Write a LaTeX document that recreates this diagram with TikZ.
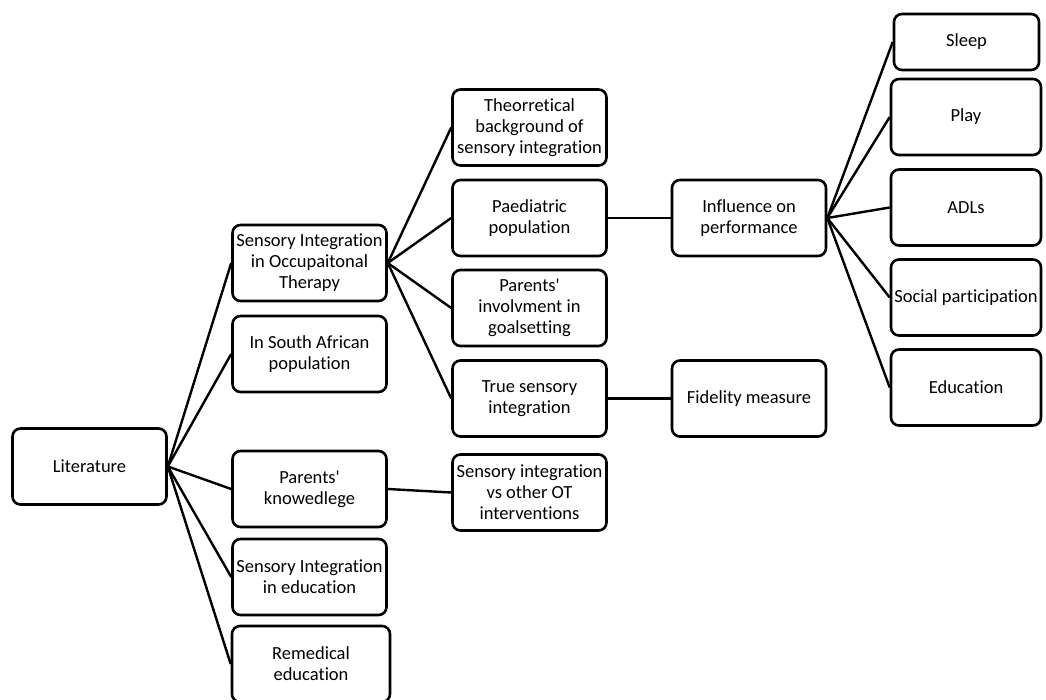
\documentclass[tikz,border=0pt]{standalone}
\usepackage{fontspec}
\setmainfont{Carlito}[Ligatures=NoCommon]
\usetikzlibrary{positioning}

\begin{document}
\begin{tikzpicture}[x=1pt, y=-1pt,
    every node/.style={font=\fontsize{18.5}{21}\selectfont},
    box/.style={draw, line width=2.6pt, rounded corners=8pt, align=center,
        minimum width=154pt, minimum height=76pt, inner sep=1pt},
    link/.style={line width=2.4pt}]
    % page frame
    \clip (0,0) rectangle (1046,700);

    % root
    \node[box] (lit) at (89.5,466.5) {Literature};

    % second column
    \node[box] (sioc) at (309.5,263) {Sensory Integration\\in Occupaitonal\\Therapy};
    \node[box] (safr) at (309.5,354) {In South African\\population};
    \node[box] (pknow) at (309.5,489) {Parents\textquotesingle\\knowedlege};
    \node[box] (siedu) at (309.5,577) {Sensory Integration\\in education};
    \node[box, minimum width=158pt] (remed) at (311,664) {Remedical\\education};

    % third column
    \node[box] (theo) at (529.5,127.5) {Theorretical\\background of\\sensory integration};
    \node[box] (paed) at (529.5,218) {Paediatric\\population};
    \node[box] (pinv) at (529.5,308) {Parents\textquotesingle\\involvment in\\goalsetting};
    \node[box] (true) at (529.5,398.5) {True sensory\\integration};
    \node[box] (sivs) at (529.5,492.5) {Sensory integration\\vs other OT\\interventions};

    % fourth column
    \node[box] (infl) at (749,218) {Influence on\\performance};
    \node[box] (fid) at (749,398.5) {Fidelity measure};

    % occupations
    \node[box, minimum width=145pt, minimum height=56pt] (sleep) at (966.5,42) {Sleep};
    \node[box, minimum width=150pt] (play) at (966,117) {Play};
    \node[box, minimum width=150pt] (adl) at (966,207.5) {ADLs};
    \node[box, minimum width=150pt] (soc) at (966,297.5) {Social participation};
    \node[box, minimum width=150pt] (edu) at (966,387.5) {Education};

    % connectors
    \foreach \n in {sioc,safr,pknow,siedu,remed}
        \draw[link] (lit.east) -- (\n.west);
    \foreach \n in {theo,paed,pinv,true}
        \draw[link] (sioc.east) -- (\n.west);
    \draw[link] (pknow.east) -- (sivs.west);
    \draw[link] (paed.east) -- (infl.west);
    \draw[link] (true.east) -- (fid.west);
    \foreach \n in {sleep,play,adl,soc,edu}
        \draw[link] (infl.east) -- (\n.west);
\end{tikzpicture}
\end{document}
